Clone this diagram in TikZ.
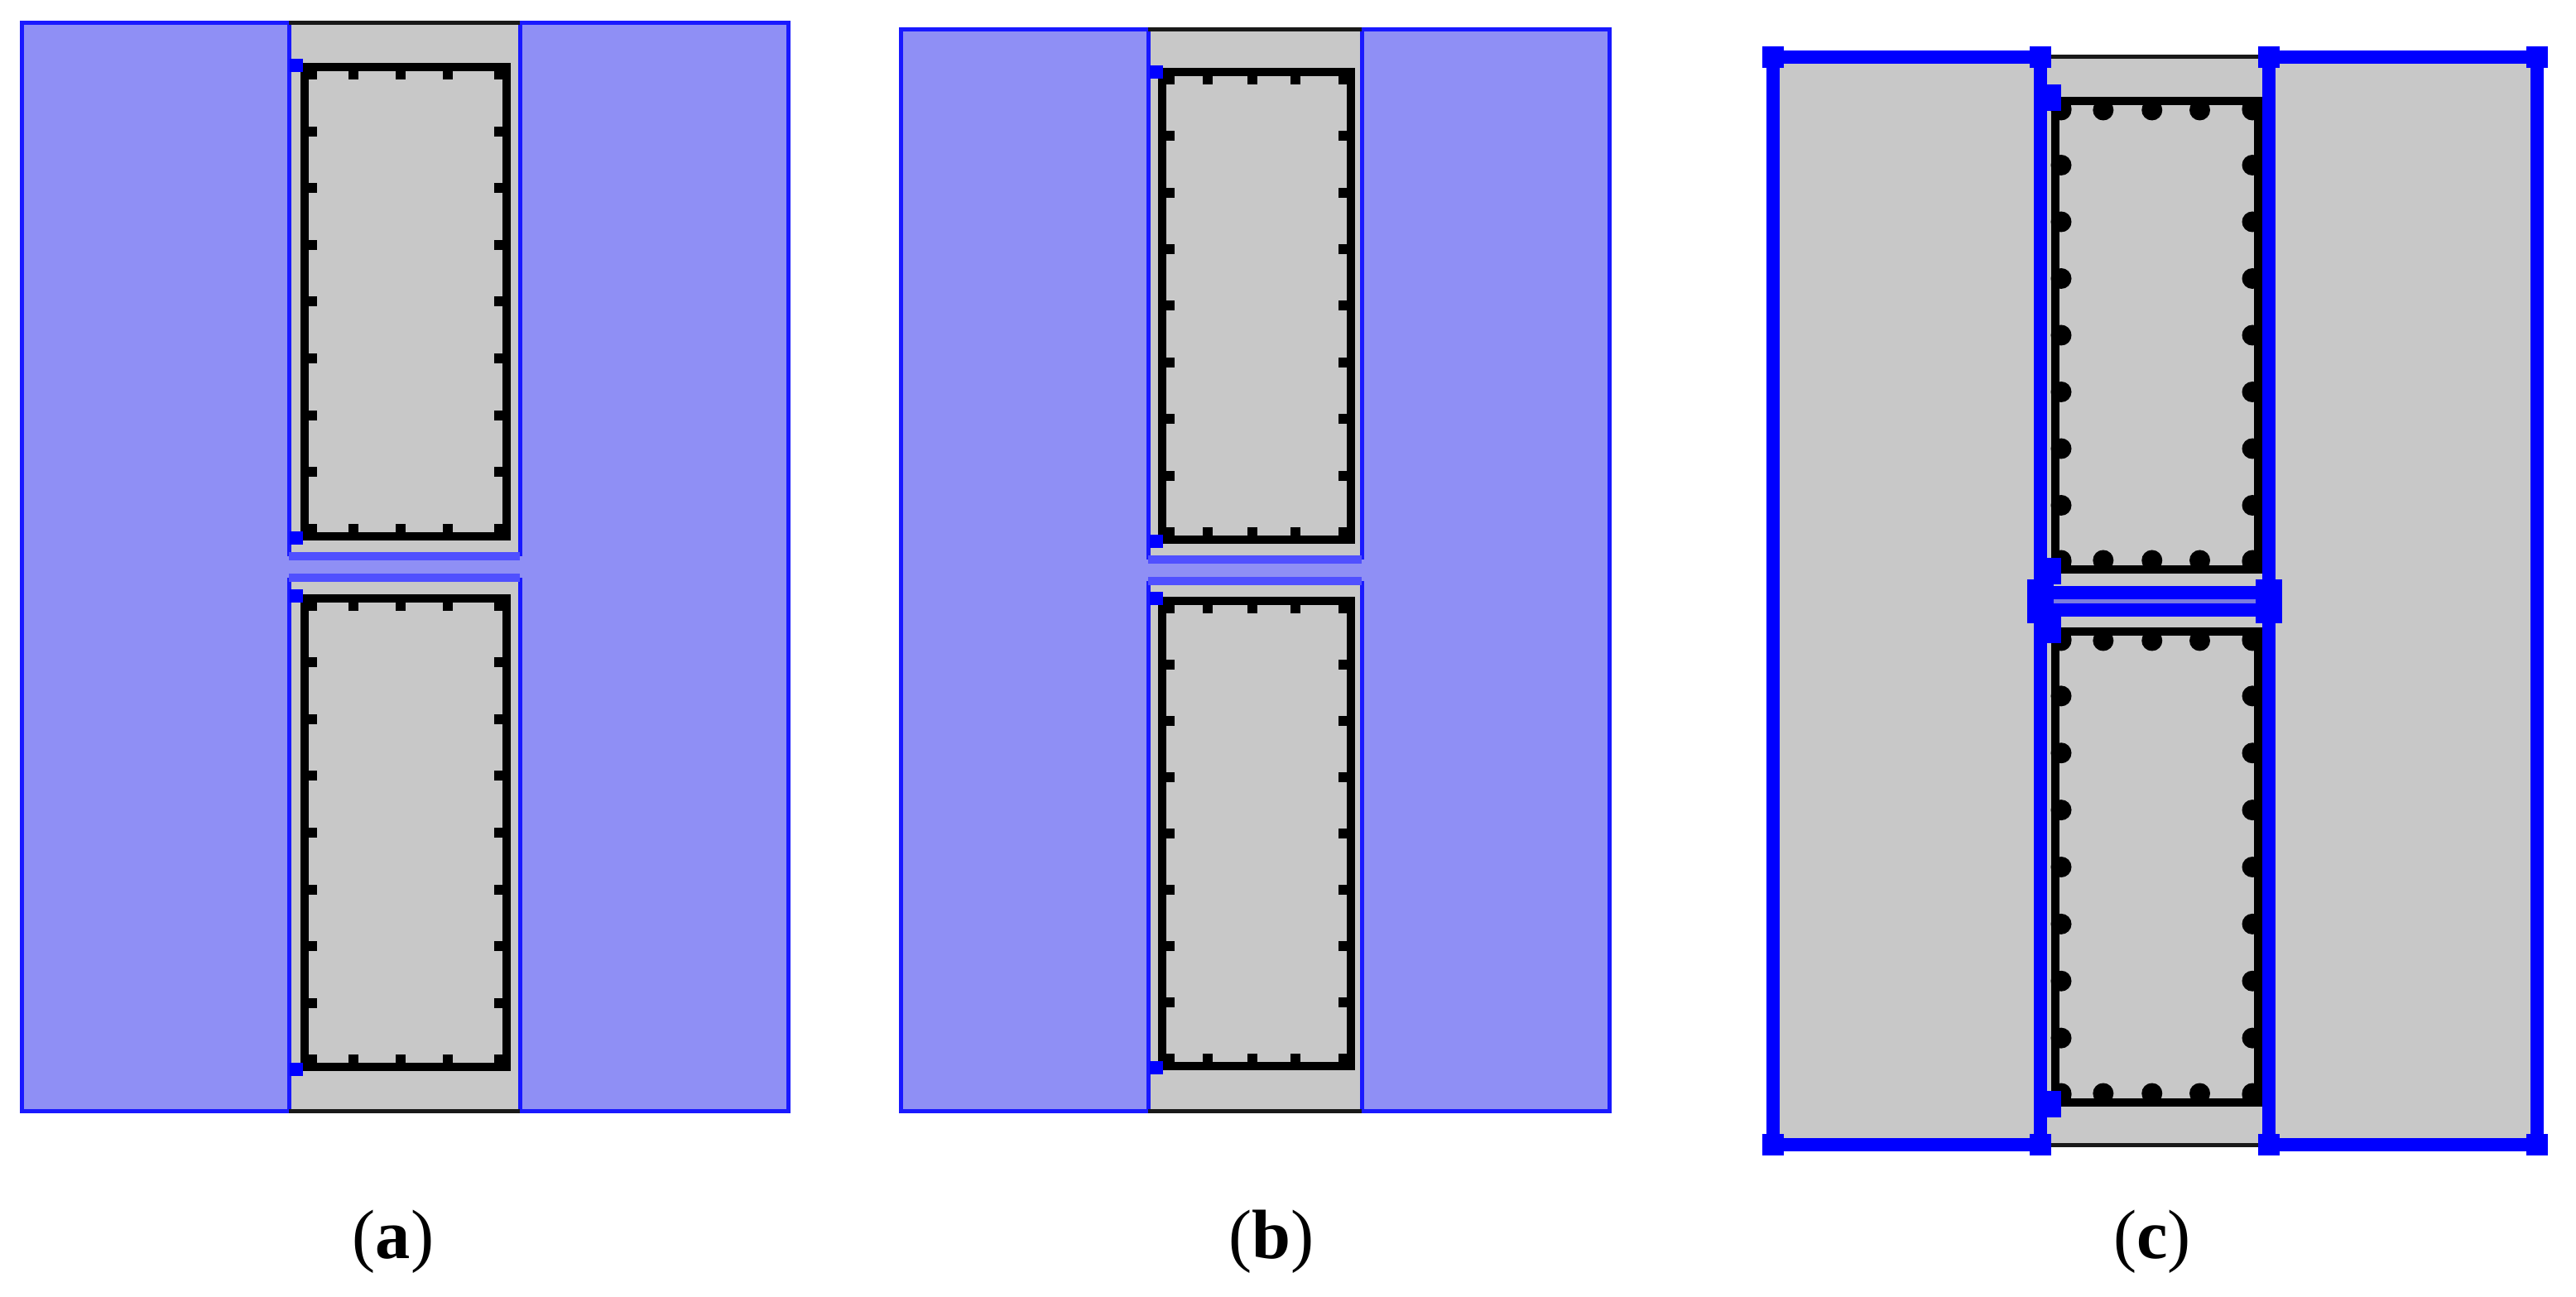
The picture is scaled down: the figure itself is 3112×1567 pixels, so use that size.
\documentclass[tikz,border=0pt]{standalone}
\usepackage{fontspec}
\setmainfont{Liberation Serif}
\definecolor{wallblue}{HTML}{8F8FF5}
\definecolor{concgray}{HTML}{C8C8C8}
\definecolor{bandblue}{HTML}{5050FF}
\definecolor{gapblue}{HTML}{7B7BE0}
\tikzset{
  thinblue/.style={draw=blue!90!white,line width=0.5mm},
  thickblue/.style={draw=blue,line width=1.6mm},
  steelline/.style={draw=black,line width=0.95mm},
  edgeline/.style={draw=black!90,line width=0.5mm},
  caption/.style={font=\fontsize{24}{28}\selectfont,text=black}
}
% xl, xr, yt, yb, xinset, yinset, bar drawing
\newcommand{\rcsection}[7]{
  \draw [steelline] (#1,#3) rectangle (#2,#4);
  \foreach \k in {0,0.88,1.9,2.9,4} {
    \pgfmathsetmacro{\bx}{#1+#5+\k*(#2-#1-2*#5)/4}
    #7{\bx}{#3+#6}
    #7{\bx}{#4-#6}
  }
  \foreach \k in {0,...,8} {
    \pgfmathsetmacro{\by}{#3+9+\k*(#4-#3-18)/8}
    #7{#1+#5}{\by}
    #7{#2-#5}{\by}
  }
}
\newcommand{\squarebar}[2]{\fill [black] ({#1-6},{#2-6}) rectangle ({#1+6},{#2+6});}
\newcommand{\roundbar}[2]{\fill [black] ({#1},{#2}) circle [radius=12.5];}
\newcommand{\bluemark}[3]{\fill [blue] ({#1-#3},{#2-#3}) rectangle ({#1+#3},{#2+#3});}

\begin{document}
\begin{tikzpicture}[x=0.1mm,y=-0.1mm]
  \useasboundingbox (0,0) rectangle (3112,1567);

  % panel a
  \fill [wallblue] (26,28) rectangle (952,1342);
  \fill [concgray] (349,28) rectangle (628,672);
  \fill [concgray] (349,698) rectangle (628,1342);
  \draw [thinblue] (349,28) -- (26,28) -- (26,1342) -- (349,1342);
  \draw [thinblue] (628,28) -- (952,28) -- (952,1342) -- (628,1342);
  \draw [thinblue] (349,28) -- (349,672);
  \draw [thinblue] (628,28) -- (628,672);
  \draw [thinblue] (349,698) -- (349,1342);
  \draw [thinblue] (628,698) -- (628,1342);
  \draw [bandblue,line width=1mm] (349,672) -- (628,672);
  \draw [bandblue,line width=1mm] (349,698) -- (628,698);
  \draw [edgeline] (349,28) -- (628,28);
  \draw [edgeline] (349,1342) -- (628,1342);
  \rcsection{368}{612}{81}{648}{9}{9}{\squarebar}
  \rcsection{368}{612}{723}{1289}{9}{9}{\squarebar}
  \bluemark{358}{79}{8}
  \bluemark{358}{650}{8}
  \bluemark{358}{720}{8}
  \bluemark{358}{1292}{8}
  \node (capa) [caption] at (475,1500) {(\textbf{a})};

  % panel b
  \fill [wallblue] (1088,36) rectangle (1944,1342);
  \fill [concgray] (1387,36) rectangle (1645,676);
  \fill [concgray] (1387,702) rectangle (1645,1342);
  \draw [thinblue] (1387,36) -- (1088,36) -- (1088,1342) -- (1387,1342);
  \draw [thinblue] (1645,36) -- (1944,36) -- (1944,1342) -- (1645,1342);
  \draw [thinblue] (1387,36) -- (1387,676);
  \draw [thinblue] (1645,36) -- (1645,676);
  \draw [thinblue] (1387,702) -- (1387,1342);
  \draw [thinblue] (1645,702) -- (1645,1342);
  \draw [bandblue,line width=1mm] (1387,676) -- (1645,676);
  \draw [bandblue,line width=1mm] (1387,702) -- (1645,702);
  \draw [edgeline] (1387,36) -- (1645,36);
  \draw [edgeline] (1387,1342) -- (1645,1342);
  \rcsection{1404}{1632}{87}{652}{9}{9}{\squarebar}
  \rcsection{1404}{1632}{726}{1288}{9}{9}{\squarebar}
  \bluemark{1397}{87}{8}
  \bluemark{1397}{654}{8}
  \bluemark{1397}{723}{8}
  \bluemark{1397}{1290}{8}
  \node (capb) [caption] at (1536,1500) {(\textbf{b})};

  % panel c
  \fill [concgray] (2142,69) rectangle (3065,1383);
  \fill [gapblue] (2465,716) rectangle (2741,737);
  \draw [edgeline] (2465,69) -- (2741,69);
  \draw [edgeline] (2465,1383) -- (2741,1383);
  \rcsection{2483}{2728}{122}{688}{7}{11}{\roundbar}
  \rcsection{2483}{2728}{763}{1332}{7}{11}{\roundbar}
  \draw [thickblue] (2465,69) -- (2142,69) -- (2142,1383) -- (2465,1383);
  \draw [thickblue] (2741,69) -- (3065,69) -- (3065,1383) -- (2741,1383);
  \draw [thickblue] (2465,69) -- (2465,1383);
  \draw [thickblue] (2741,69) -- (2741,1383);
  \draw [thickblue] (2465,716) -- (2741,716);
  \draw [thickblue] (2465,737) -- (2741,737);
  \foreach \mx/\my in {2142/69,2465/69,2741/69,3065/69,2142/1383,2465/1383,2741/1383,3065/1383} {
    \bluemark{\mx}{\my}{13}
  }
  \foreach \mx/\my in {2465/716,2741/716,2465/737,2741/737,2474/118,2474/690,2474/761,2474/1334} {
    \bluemark{\mx}{\my}{16}
  }
  \node (capc) [caption] at (2600,1500) {(\textbf{c})};
\end{tikzpicture}
\end{document}
